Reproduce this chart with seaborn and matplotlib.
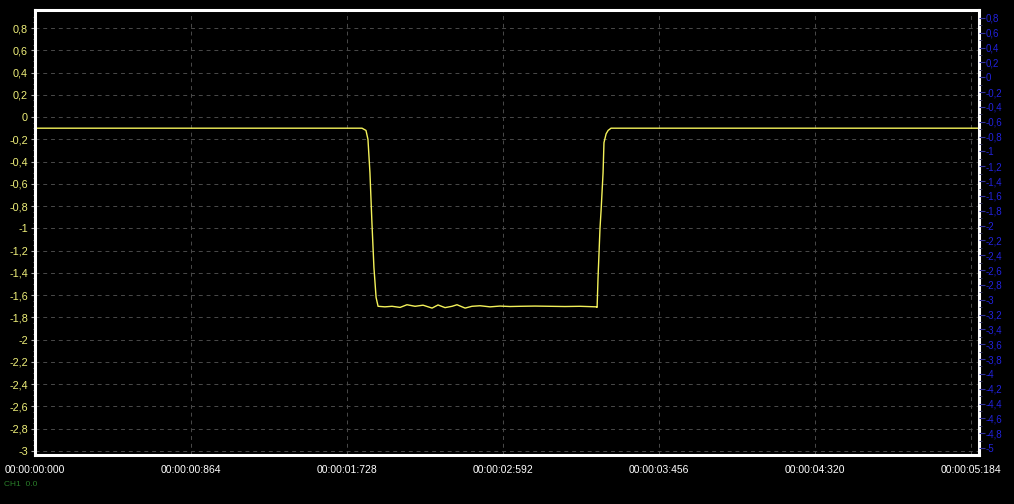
import numpy as np
import pandas as pd
import matplotlib
matplotlib.use('Agg')
import matplotlib.pyplot as plt
import seaborn as sns

# signal (seconds, volts)
t_sec = [0.000, 1.811, 1.833, 1.844, 1.855, 1.866, 1.877, 1.889, 1.900,
         1.938, 1.977, 2.022, 2.060, 2.105, 2.149, 2.199, 2.232, 2.271,
         2.310, 2.337, 2.382, 2.420, 2.465, 2.520, 2.575, 2.631, 2.686,
         2.769, 2.852, 2.935, 3.018, 3.074, 3.107,
         3.113, 3.118, 3.129, 3.135, 3.146, 3.151, 3.163, 3.174, 3.190, 5.228]
volts = [-0.10, -0.10, -0.12, -0.20, -0.50, -0.95, -1.35, -1.62, -1.70,
         -1.705, -1.700, -1.710, -1.686, -1.700, -1.690, -1.716, -1.688, -1.712,
         -1.700, -1.686, -1.716, -1.700, -1.695, -1.705, -1.698, -1.702, -1.700,
         -1.698, -1.700, -1.702, -1.700, -1.703, -1.705,
         -1.71, -1.45, -1.00, -0.84, -0.50, -0.23, -0.15, -0.12, -0.10, -0.10]

x_ticks = [0.000, 0.864, 1.728, 2.592, 3.456, 4.320, 5.184]
x_labels = ['00:00:00:000', '00:00:00:864', '00:00:01:728', '00:00:02:592',
            '00:00:03:456', '00:00:04:320', '00:00:05:184']
left_ticks = np.round(np.arange(-3.0, 0.81, 0.2), 1)
right_ticks = np.round(np.arange(-5.0, 0.81, 0.2), 1)

df = pd.DataFrame({'t': t_sec, 'v': volts})


def comma(v):
    s = f"{v:g}".replace('.', ',')
    return '0' if s == '-0' else s


sns.set_style('dark', {'axes.facecolor': 'black', 'figure.facecolor': 'black'})
plt.rcParams['font.family'] = ['Liberation Sans', 'DejaVu Sans']

fig = plt.figure(figsize=(10.14, 5.04), dpi=100)
ax = fig.add_axes([0.0345, 0.0972, 0.931, 0.883])
ax.set_facecolor('black')

sns.lineplot(data=df, x='t', y='v', ax=ax, color='#f4f25a', linewidth=1.0)

ax.set_xlim(0, 5.228)
ax.set_ylim(-3.036, 0.962)
ax.set_xticks(x_ticks)
ax.set_xticklabels(x_labels, color='white', fontsize=7.5)
ax.set_xticks(np.arange(0, 5.2, 0.216), minor=True)
ax.set_yticks(left_ticks)
ax.set_yticklabels([comma(v) for v in left_ticks], color='#f0f07a', fontsize=7.8)
ax.set_yticks(np.arange(-3.0, 0.95, 0.05), minor=True)
ax.set_xlabel('')
ax.set_ylabel('')
ax.tick_params(axis='x', which='major', length=3, color='#555555', pad=4)
ax.tick_params(axis='x', which='minor', length=3, color='#444444')
ax.tick_params(axis='y', which='major', length=3, color='#aaaaaa', pad=2)
ax.tick_params(axis='y', which='minor', length=1.5, color='#888888')

ax.grid(True, which='major', color='#4a4a4a', linestyle=(0, (4, 4)), linewidth=0.7)
for s in ax.spines.values():
    s.set_visible(True)
    s.set_color('white')
    s.set_linewidth(2.2)

ax2 = ax.twinx()
ax2.set_ylim(-5.094, 0.908)
ax2.set_yticks(right_ticks)
ax2.set_yticklabels([comma(v) for v in right_ticks], color='#2222dd', fontsize=7)
ax2.set_yticks(np.arange(-5.0, 0.9, 0.1), minor=True)
ax2.tick_params(axis='y', which='major', length=4, color='#333399', pad=1)
ax2.tick_params(axis='y', which='minor', length=2, color='#333366')
ax2.grid(False)
for s in ax2.spines.values():
    s.set_visible(False)

fig.text(0.004, 0.035, 'CH1  0.0', color='#2e8b2e', fontsize=6, alpha=0.9)

fig.savefig('out.png', dpi=100, facecolor='black')
